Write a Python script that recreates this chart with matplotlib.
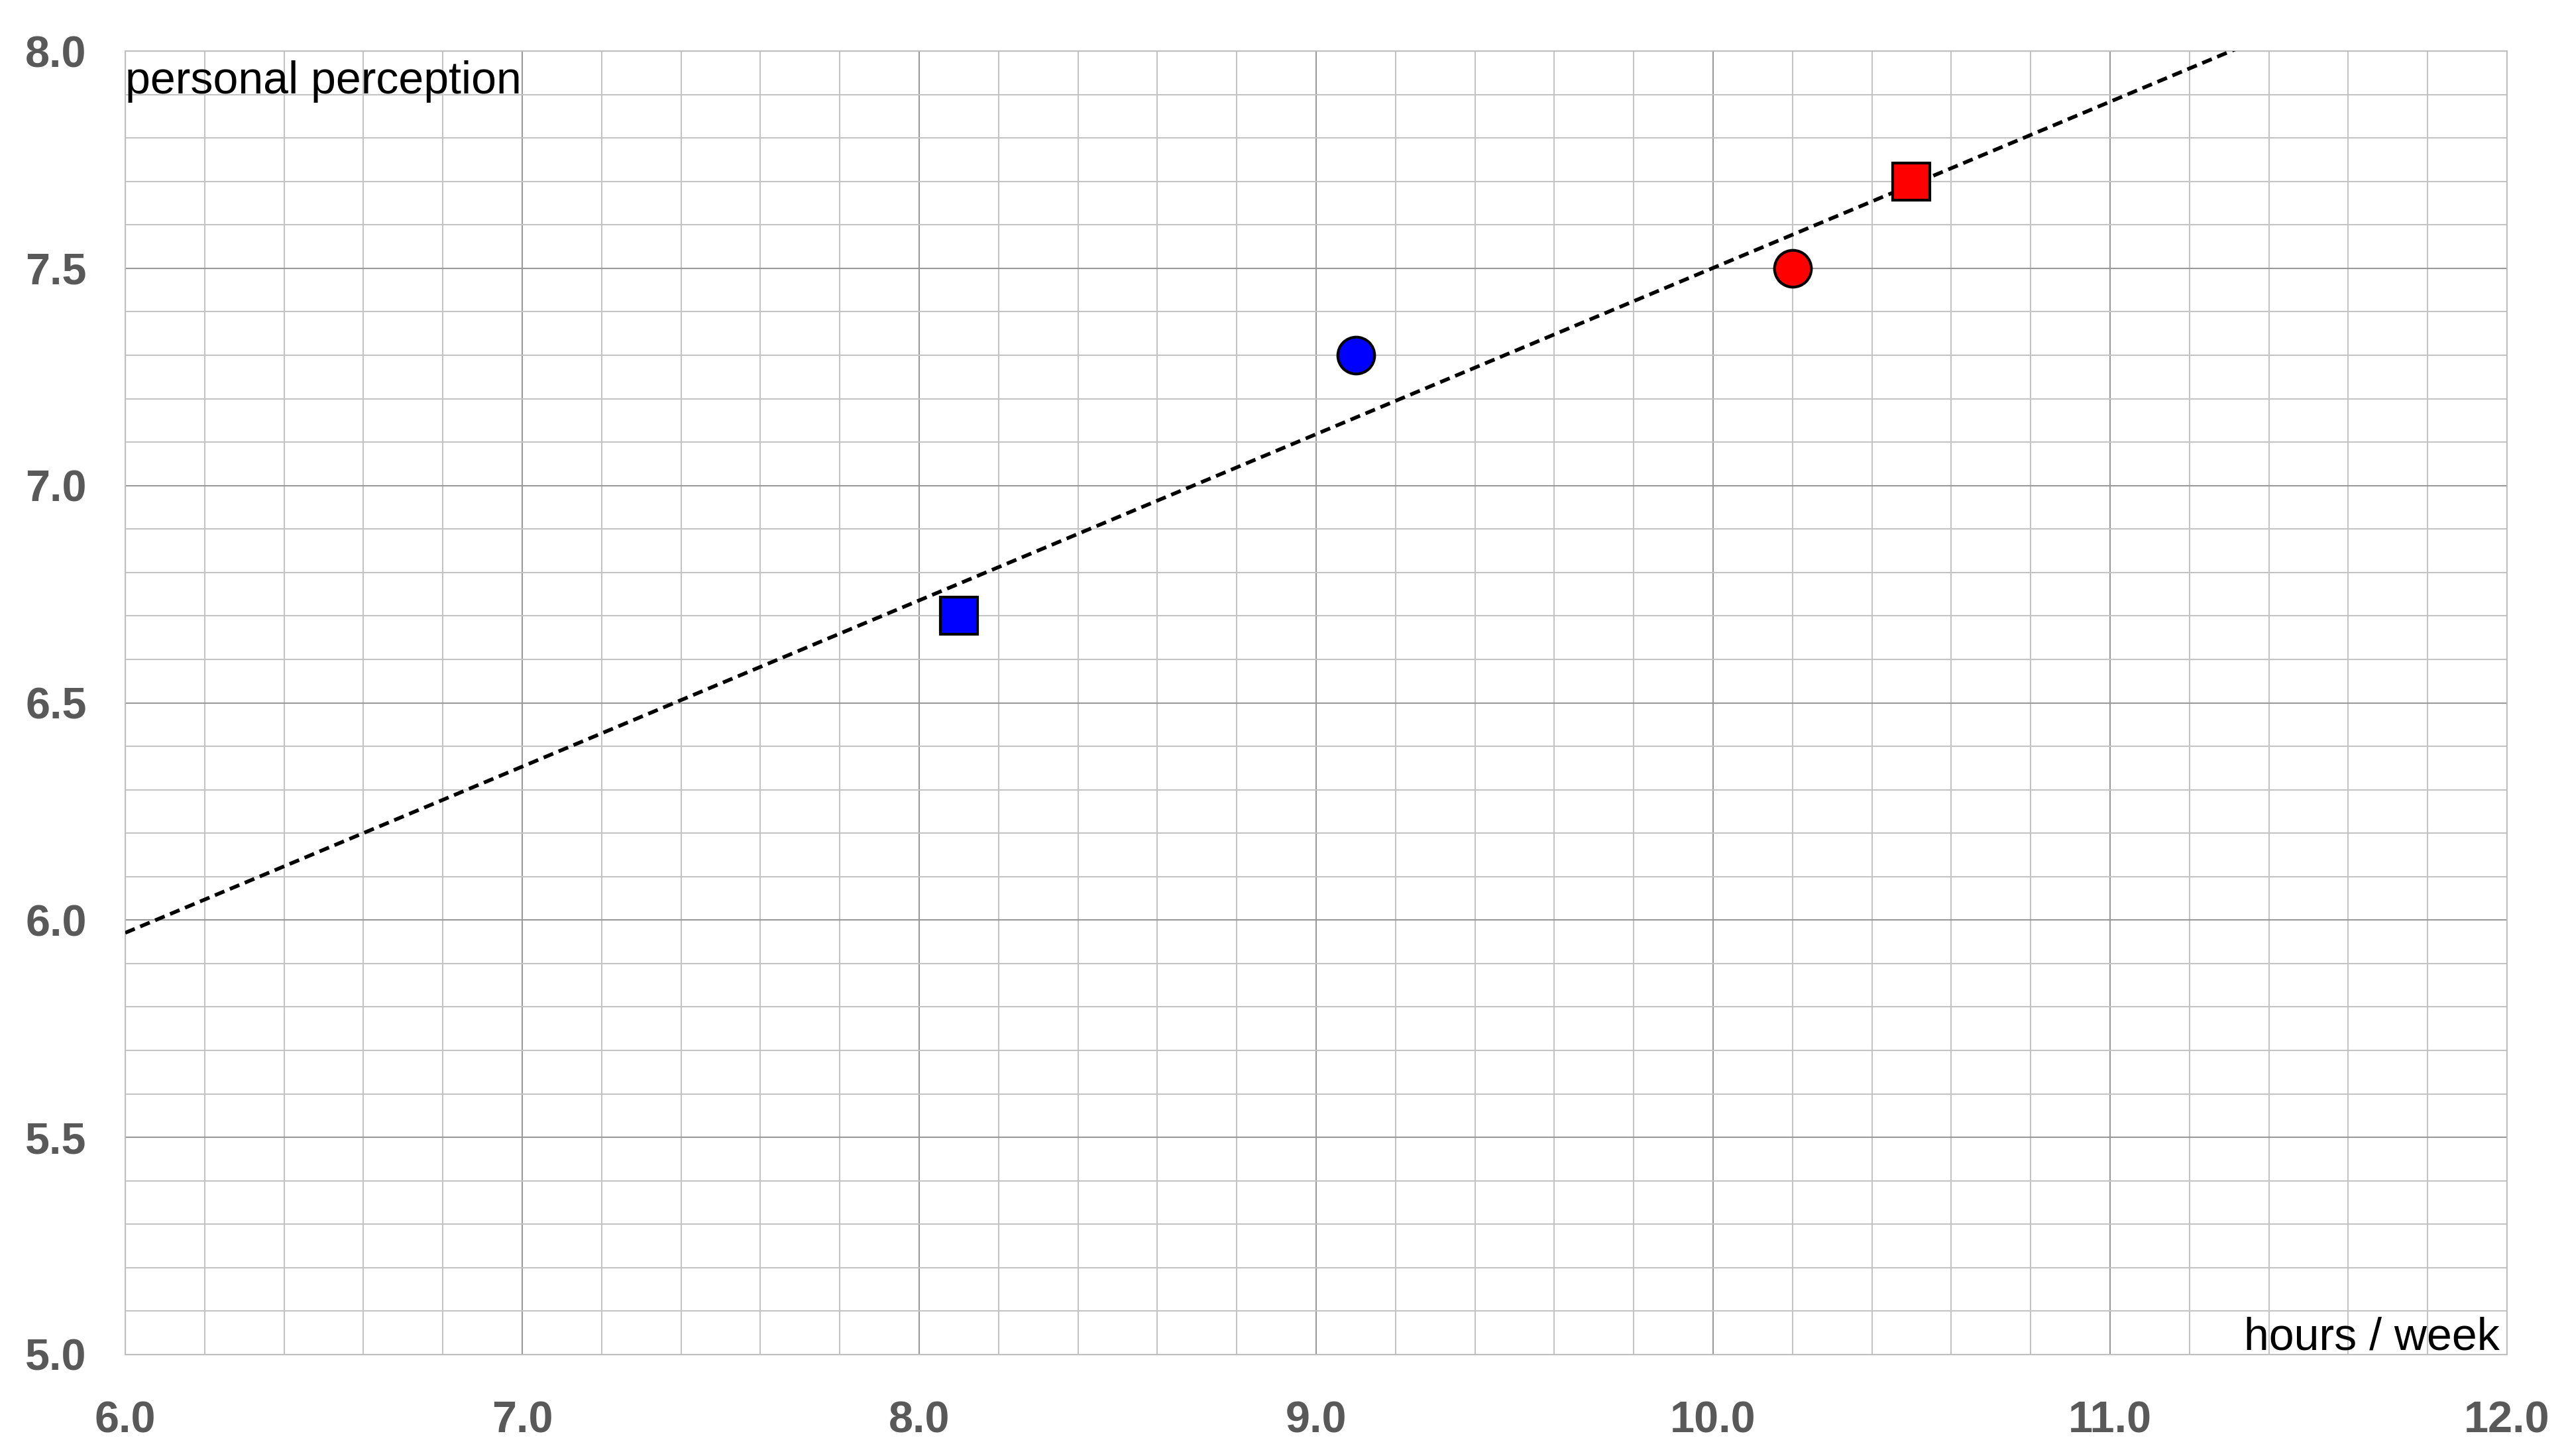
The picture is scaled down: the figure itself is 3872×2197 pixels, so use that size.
import numpy as np
import matplotlib.pyplot as plt
from matplotlib.ticker import MultipleLocator

# data points (hours / week, personal perception)
hours = [8.1, 9.1, 10.2, 10.5]
perception = [6.7, 7.3, 7.5, 7.7]
colors = ['#0000ff', '#0000ff', '#ff0000', '#ff0000']
markers = ['s', 'o', 'o', 's']

x_ticks = [6.0, 7.0, 8.0, 9.0, 10.0, 11.0, 12.0]
y_ticks = [5.0, 5.5, 6.0, 6.5, 7.0, 7.5, 8.0]

plt.rcParams['font.family'] = ['Liberation Sans', 'DejaVu Sans']

fig = plt.figure(figsize=(38.73, 21.97), dpi=100)
ax = fig.add_axes([189 / 3873, 1 - 2044 / 2197, (3783 - 189) / 3873, (2044 - 77) / 2197])

ax.set_xlim(6.0, 12.0)
ax.set_ylim(5.0, 8.0)
ax.set_xticks(x_ticks)
ax.set_yticks(y_ticks)
ax.xaxis.set_minor_locator(MultipleLocator(0.2))
ax.yaxis.set_minor_locator(MultipleLocator(0.1))
ax.grid(which='major', color='#999999', linewidth=1.5)
ax.grid(which='minor', color='#c4c4c4', linewidth=1.5)
ax.set_axisbelow(True)
ax.tick_params(which='both', length=0)
ax.tick_params(axis='x', pad=50)
ax.tick_params(axis='y', pad=42)
ax.set_xticklabels(['%.1f' % v for v in x_ticks])
ax.set_yticklabels(['%.1f' % v for v in y_ticks])
for lab in ax.get_xticklabels() + ax.get_yticklabels():
    lab.set_fontsize(48)
    lab.set_fontweight('bold')
    lab.set_color('#595959')
for s in ax.spines.values():
    s.set_color('#bfbfbf')
    s.set_linewidth(1.5)

# trend line (least squares fit)
slope, icpt = np.polyfit(hours, perception, 1)
xs = np.array([6.0, 12.0])
ax.plot(xs, slope * xs + icpt, color='black', linewidth=4.0, dashes=(2.8, 1.6), zorder=3)

for x, y, c, m in zip(hours, perception, colors, markers):
    ax.plot(x, y, marker=m, markersize=40 if m == 'o' else 41, color=c,
            markeredgecolor='black', markeredgewidth=3, linestyle='none', zorder=4)

ax.text(0.0, 0.993, 'personal perception', transform=ax.transAxes, ha='left', va='top',
        fontsize=49, color='black')
ax.text(0.997, 0.004, 'hours / week', transform=ax.transAxes, ha='right', va='baseline',
        fontsize=49, color='black')

fig.savefig('out.png', dpi=100)
